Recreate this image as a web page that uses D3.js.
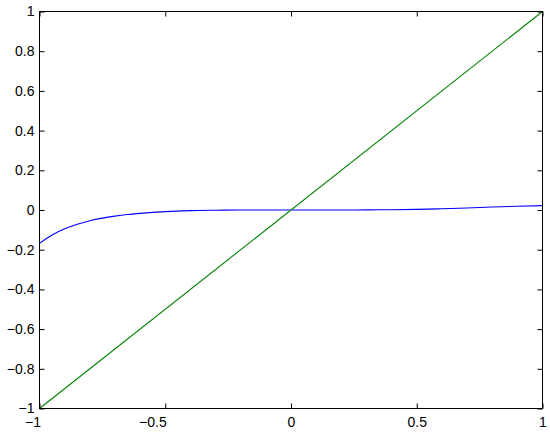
<!DOCTYPE html>
<html>
<head>
<meta charset="utf-8">
<script src="https://cdn.jsdelivr.net/npm/d3@7"></script>
<style>
  body { margin: 0; background: #fff; }
  .tick text { font-family: "Liberation Sans", Arial, Helvetica, sans-serif; font-size: 14px; fill: #000; }
</style>
</head>
<body>
<div class="chart"></div>
<script>
// curve values
var blueX = [-1, -0.95, -0.9, -0.85, -0.8, -0.75, -0.7, -0.65, -0.6, -0.5, -0.4, -0.3, -0.2, -0.1,
  0, 0.1, 0.2, 0.3, 0.4, 0.5, 0.6, 0.7, 0.8, 0.9, 1];
var blueY = [-0.168, -0.126, -0.095, -0.072, -0.054, -0.041, -0.031, -0.023, -0.017, -0.008, -0.003, -0.001, 0, 0,
  0, 0, 0, 0.0005, 0.0015, 0.003, 0.006, 0.010, 0.015, 0.019, 0.022];
var greenX = [-1, 1];
var greenY = [-1, 1];

var svgWidth = 550;
var svgHeight = 435;

var margin = { top: 11, right: 8, bottom: 27, left: 39 };

var width = svgWidth - margin.left - margin.right;
var height = svgHeight - margin.top - margin.bottom;

var svg = d3.select(".chart")
  .append("svg")
  .attr("width", svgWidth)
  .attr("height", svgHeight);

var chartGroup = svg.append("g")
  .attr("transform", `translate(${margin.left + 0.5}, ${margin.top + 0.5})`);

var xScale = d3.scaleLinear().domain([-1, 1]).range([0, width]);
var yScale = d3.scaleLinear().domain([-1, 1]).range([height, 0]);

var fmt = d3.format("~g");
var xTicks = xScale.ticks(4);
var yTicks = yScale.ticks(10);

// lines
var line = d3.line()
  .x(d => xScale(d[0]))
  .y(d => yScale(d[1]))
  .curve(d3.curveMonotoneX);

chartGroup.append("path")
  .datum(blueX.map((x, i) => [x, blueY[i]]))
  .attr("d", line)
  .attr("fill", "none")
  .attr("stroke", "#0000ff")
  .attr("stroke-width", 1.1);

chartGroup.append("path")
  .datum(greenX.map((x, i) => [x, greenY[i]]))
  .attr("d", d3.line().x(d => xScale(d[0])).y(d => yScale(d[1])))
  .attr("fill", "none")
  .attr("stroke", "#008000")
  .attr("stroke-width", 1.1);

// axes, ticks pointing inward on all four sides
function styleAxis(g) {
  g.select(".domain").remove();
  g.selectAll(".tick line").attr("stroke", "#000");
}

var xAxis = chartGroup.append("g")
  .attr("transform", `translate(0, ${height})`)
  .call(d3.axisBottom(xScale).tickValues(xTicks).tickFormat(fmt).tickSizeInner(-5).tickSizeOuter(0).tickPadding(9))
  .call(styleAxis);

// negative labels sit to the left of their tick, as in the reference
xAxis.selectAll(".tick text")
  .filter(d => d < 0)
  .attr("text-anchor", "end")
  .attr("dx", "1");

chartGroup.append("g")
  .call(d3.axisTop(xScale).tickValues(xTicks).tickFormat("").tickSizeInner(-5).tickSizeOuter(0))
  .call(styleAxis);

chartGroup.append("g")
  .call(d3.axisLeft(yScale).tickValues(yTicks).tickFormat(fmt).tickSizeInner(-5).tickSizeOuter(0).tickPadding(5))
  .call(styleAxis);

chartGroup.append("g")
  .attr("transform", `translate(${width}, 0)`)
  .call(d3.axisRight(yScale).tickValues(yTicks).tickFormat("").tickSizeInner(-5).tickSizeOuter(0))
  .call(styleAxis);

// box
chartGroup.append("rect")
  .attr("x", 0)
  .attr("y", 0)
  .attr("width", width)
  .attr("height", height)
  .attr("fill", "none")
  .attr("stroke", "#000")
  .attr("stroke-width", 1);
</script>
</body>
</html>
